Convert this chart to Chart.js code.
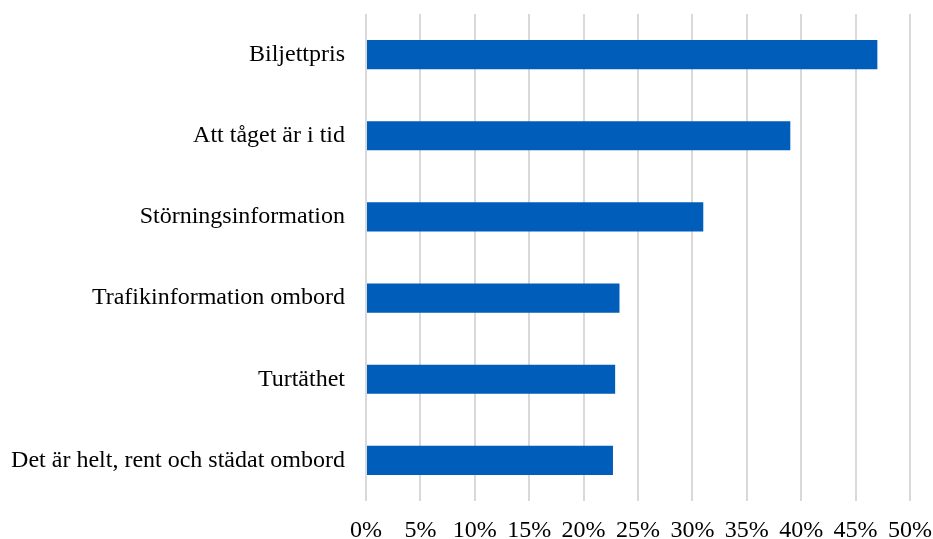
<!DOCTYPE html>
<html>
<head>
<meta charset="utf-8">
<script src="https://cdn.jsdelivr.net/npm/chart.js@4/dist/chart.umd.min.js"></script>
<style>
  html, body { margin: 0; padding: 0; background: #ffffff; }
  #wrap { width: 933px; height: 539px; position: relative; }
</style>
</head>
<body>
<div id="wrap"><canvas id="c" width="933" height="539"></canvas></div>
<script>
// Andel som anger faktorn som viktig (%)
const categories = [
  "Biljettpris",
  "Att tåget är i tid",
  "Störningsinformation",
  "Trafikinformation ombord",
  "Turtäthet",
  "Det är helt, rent och städat ombord"
];
const shares = [47, 39, 31, 23.3, 22.9, 22.7];
const xTicks = [0, 5, 10, 15, 20, 25, 30, 35, 40, 45, 50];

const fontFamily = "'Liberation Serif', 'Times New Roman', serif";

new Chart(document.getElementById('c'), {
  type: 'bar',
  data: {
    labels: categories,
    datasets: [{
      data: shares,
      backgroundColor: '#005DBA',
      borderWidth: 0,
      barPercentage: 0.72,
      categoryPercentage: 0.5
    }]
  },
  options: {
    indexAxis: 'y',
    responsive: false,
    animation: false,
    layout: { padding: { top: 14, right: 23, left: 0, bottom: 0 } },
    plugins: { legend: { display: false }, tooltip: { enabled: false } },
    scales: {
      x: {
        min: 0,
        max: 50,
        afterBuildTicks: (scale) => { scale.ticks = xTicks.map(v => ({ value: v })); },
        ticks: {
          color: '#000000',
          font: { family: fontFamily, size: 24 },
          padding: 15,
          maxRotation: 0,
          callback: (v) => v + '%'
        },
        grid: { color: '#d9d9d9', lineWidth: 2, drawTicks: false },
        border: { display: false },
        afterFit: (scale) => {
          scale.height = 38;
          scale.paddingLeft = 0;
          scale.paddingRight = 0;
        }
      },
      y: {
        ticks: {
          color: '#000000',
          font: { family: fontFamily, size: 24 },
          padding: 21
        },
        grid: { display: false, drawTicks: false },
        border: { display: false },
        afterFit: (scale) => {
          scale.width = 366;
          scale.paddingTop = 0;
          scale.paddingBottom = 0;
        }
      }
    }
  }
});
</script>
</body>
</html>
